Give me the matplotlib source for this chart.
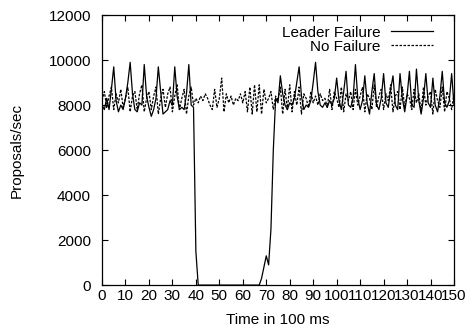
import matplotlib
matplotlib.use("Agg")
import matplotlib.pyplot as plt

plt.rcParams['font.family'] = ['Liberation Sans', 'DejaVu Sans']

time = list(range(0, 151))

leader_failure = [
    8000, 7800, 8300, 7800, 8700, 9700, 8200, 7700, 8000, 7800,
    8300, 9000, 9900, 8500, 7800, 7700, 8100, 8000, 9800, 8400,
    7900, 7500, 7800, 8300, 9700, 8600, 7600, 7700, 7800, 8200,
    8000, 9700, 8400, 7800, 7900, 7800, 8500, 9800, 8000, 7900,
    1500, 0, 0, 0, 0, 0, 0, 0, 0, 0,
    0, 0, 0, 0, 0, 0, 0, 0, 0, 0,
    0, 0, 0, 0, 0, 0, 0, 0, 300, 800,
    1300, 900, 2500, 6000, 8300, 8100, 9300, 8500, 8000, 7800,
    8100, 8000, 8300, 9000, 9700, 8400, 7800, 8000, 7900, 8200,
    9000, 9900, 8600, 8000, 7900, 8100, 7900, 8200, 8000, 8300,
    9200, 8200, 7800, 8600, 9500, 8000, 7900, 8300, 9800, 8300,
    7800, 8200, 9300, 8100, 7600, 8600, 9400, 8000, 7800, 8300,
    9400, 8100, 7900, 8700, 9300, 8000, 7800, 9400, 8300, 7700,
    8400, 9500, 8000, 7900, 9600, 8200, 7600, 8300, 9400, 8100,
    7900, 9200, 8000, 7700, 8400, 9500, 8100, 7900, 8200, 9400,
    8000,
]

no_failure = [
    8200, 8600, 7900, 8400, 8800, 7800, 8500, 8100, 8700, 7900,
    8300, 8800, 7700, 8400, 8600, 7800, 8500, 8900, 7700, 8300,
    8600, 7800, 8400, 8800, 7600, 8300, 8700, 7900, 8500, 8800,
    7700, 8400, 8900, 7800, 8300, 8700, 7600, 8400, 8800, 8000,
    8300, 8100, 8400, 8200, 8500, 8300, 8000, 7800, 8700, 7900,
    8300, 9200, 7700, 8500, 8100, 8400, 8000, 8300, 8200, 8500,
    8100, 8600, 7700, 8800, 7600, 8900, 7700, 8900, 7600, 8700,
    8100, 8300, 8600, 7800, 8400, 8200, 8800, 7600, 8700, 7800,
    8900, 7700, 8600, 8000, 8800, 7600, 8500, 8300, 7900, 8600,
    8100, 8400, 8000, 8500, 8200, 8300, 7900, 8700, 7800, 8600,
    8300, 7900, 8800, 7700, 8500, 8200, 8600, 7800, 8700, 8000,
    8400, 8800, 7700, 8500, 8300, 7800, 8900, 7900, 8400, 8700,
    7800, 8500, 8200, 8900, 7700, 8400, 8600, 7800, 8800, 7900,
    8500, 8300, 7800, 8700, 8100, 8500, 7700, 8800, 8000, 8400,
    8600, 7600, 8700, 8200, 7900, 8800, 7700, 8600, 8300, 7800,
    8500,
]

fig = plt.figure(figsize=(4.69, 3.35), dpi=100)
ax = fig.add_axes([0.2175, 0.149, 0.7505, 0.806])

ax.plot(time, leader_failure, color='black', linewidth=0.9, label='Leader Failure')
ax.plot(time, no_failure, color='black', linewidth=0.9, linestyle=(0, (2, 1.2)),
        label='No Failure')

ax.set_xlim(0, 150)
ax.set_ylim(0, 12000)
ax.set_xticks(range(0, 151, 10))
ax.set_yticks(range(0, 12001, 2000))
ax.tick_params(direction='in', length=4, width=0.8, top=True, right=True,
               labelsize=11)
ax.tick_params(axis='y', pad=8)
ax.tick_params(axis='x', pad=3)
for s in ax.spines.values():
    s.set_linewidth(0.9)

ax.set_xlabel('Time in 100 ms', fontsize=11, labelpad=7)
ax.set_ylabel('Proposals/sec', fontsize=11, labelpad=18)

ax.legend(loc='upper right', frameon=False, markerfirst=False, fontsize=11,
          handlelength=2.7, handletextpad=0.7, labelspacing=0.0,
          borderaxespad=0.3, bbox_to_anchor=(0.97, 1.0))

plt.savefig('out.png', dpi=100)
plt.close()
